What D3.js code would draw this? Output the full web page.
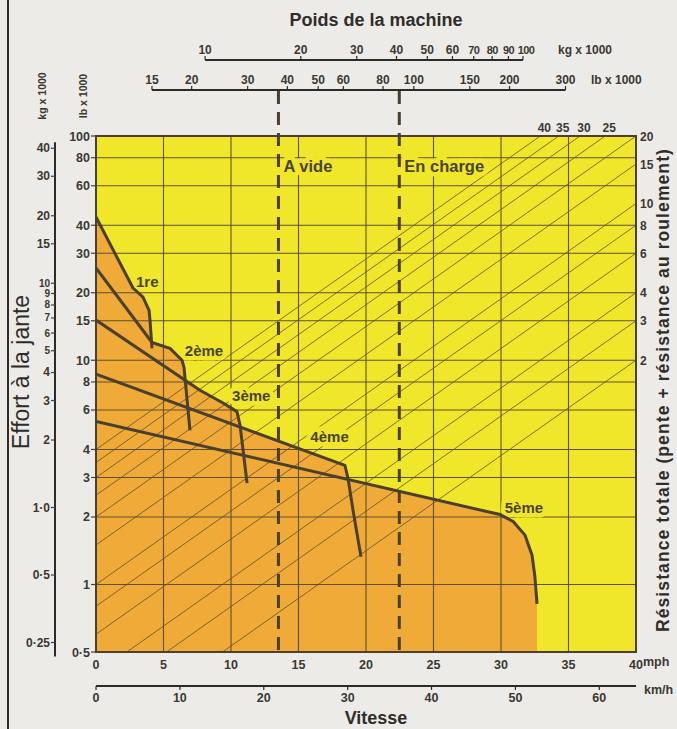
<!DOCTYPE html>
<html><head><meta charset="utf-8">
<script src="https://cdn.jsdelivr.net/npm/d3@7"></script>
<style>
html,body{margin:0;padding:0;background:#ecebe7;}
svg{display:block;font-family:"Liberation Sans",Arial,Helvetica,sans-serif;}
</style></head><body>
<svg id="c" width="677" height="729"></svg>
<script>
// ---------- data ----------
const speedTicksMph = [0,5,10,15,20,25,30,35,40];
const speedTicksKmh = [0,10,20,30,40,50,60];
const rimpullTicksLb = [100,80,60,40,30,20,15,10,8,6,4,3,2,1,0.5];
const rimpullTicksKg = [40,30,20,15,10,9,8,7,6,5,4,3,2,1,0.5,0.25];
const weightTicksKg = [10,20,30,40,50,60,70,80,90,100];
const weightTicksLb = [15,20,30,40,50,60,80,100,150,200,300];
const resistanceRightTicks = [20,15,10,8,6,4,3,2];
const resistanceTopTicks = [40,35,30,25];
const resistanceLines = [2,3,4,6,8,10,15,20,25,30,35,40];
const emptyWeightLb = 37.5;
const loadedWeightLb = 90;
const gearNames = ["1re","2ème","3ème","4ème","5ème"];
// [mph, rimpull lb x 1000]
const gear1 = [[0,43.5],[2.74,21.0],[3.48,19.1],[3.93,16.7],[4.0,15.1],[4.15,11.3]];
const gear2 = [[0,25.8],[4.15,12.0],[5.48,11.3],[6.37,10.0],[6.52,9.3],[6.96,4.87]];
const gear3 = [[0,15.1],[7.7,7.35],[9.41,6.45],[10.44,5.9],[10.67,5.13],[11.19,2.83]];
const gear4 = [[0,8.66],[18.44,3.40],[18.67,2.97],[19.04,2.14],[19.63,1.33]];
const gear5 = [[0,5.34],[29.93,2.05],[30.9,1.91],[31.78,1.66],[32.3,1.35],[32.5,1.10],[32.67,0.82]];
// label anchors [mph, lb x 1000]
const gearLabelAt = [[3.8,22.1],[8.0,10.9],[11.5,6.84],[17.3,4.48],[31.7,2.18]];
const weightLabels = ["A vide","En charge"];

// ---------- layout ----------
const svg = d3.select('#c');
const L=96, R=636, T=136, B=652;
const KG = 2.20462;
const x = d3.scaleLinear().domain([0,40]).range([L,R]);
const xk = d3.scaleLinear().domain([0,40*1.609344]).range([L,R]);
const y = d3.scaleLog().domain([0.5,100]).range([B,T]);
const w = d3.scaleLog().domain([10,500]).range([L,R]);
const YEL="#f1e72a", ORA="#efaa37", INK="#4b3f30", GRID="#5e5030", TXT="#3b3833";

svg.append('rect').attr('width',677).attr('height',729).attr('fill','#ecebe7');
svg.append('line').attr('x1',8).attr('x2',8).attr('y1',0).attr('y2',729).attr('stroke','#2d2b28').attr('stroke-width',2);

svg.append('defs').append('clipPath').attr('id','plot').append('rect')
  .attr('x',L).attr('y',T).attr('width',R-L).attr('height',B-T);

const plot = svg.append('g').attr('clip-path','url(#plot)');
plot.append('rect').attr('x',L).attr('y',T).attr('width',R-L).attr('height',B-T).attr('fill',YEL);

// envelope of gear curves
const gears=[gear1,gear2,gear3,gear4,gear5];
function valAt(g,m){
  if(m<g[0][0]-1e-9||m>g[g.length-1][0]+1e-9) return null;
  for(let i=0;i<g.length-1;i++){
    const a=g[i], b=g[i+1];
    if(m>=a[0]-1e-9 && m<=b[0]+1e-9){
      const t=(b[0]===a[0])?0:(m-a[0])/(b[0]-a[0]);
      return Math.exp(Math.log(a[1])+t*(Math.log(b[1])-Math.log(a[1])));
    }
  }
  return g[g.length-1][1];
}
const endM = d3.max(gears,g=>g[g.length-1][0]);
const env=[];
for(let m=0;m<=endM+1e-9;m+=0.01){
  let best=null;
  gears.forEach(g=>{const v=valAt(g,Math.min(m,endM)); if(v!=null&&(best==null||v>best)) best=v;});
  if(best!=null) env.push([x(m),y(best)]);
}
env.push([x(endM),y(gear5[gear5.length-1][1])]);
env.push([x(endM),B]); env.push([x(0),B]);
plot.append('path').attr('d',d3.line()(env)+'Z').attr('fill',ORA);

// grid
plot.selectAll('.hg').data(rimpullTicksLb.filter(d=>d<100&&d>0.5)).join('line')
  .attr('x1',L).attr('x2',R).attr('y1',d=>y(d)).attr('y2',d=>y(d))
  .attr('stroke',GRID).attr('stroke-width',1.1);
plot.selectAll('.vg').data(speedTicksMph.filter(d=>d>0&&d<40)).join('line')
  .attr('x1',d=>x(d)).attr('x2',d=>x(d)).attr('y1',T).attr('y2',B)
  .attr('stroke',GRID).attr('stroke-width',1.1);

// resistance lines: rimpull = weight * r/100
plot.selectAll('.rl').data(resistanceLines).join('line')
  .attr('x1',w(10)).attr('y1',r=>y(10*r/100))
  .attr('x2',w(500)).attr('y2',r=>y(500*r/100))
  .attr('stroke',GRID).attr('stroke-width',0.8);

// label halos
function plotLabel(txt,px,py,size,anchor){
  svg.append('text').attr('x',px).attr('y',py).attr('text-anchor',anchor).attr('dominant-baseline','middle')
    .attr('font-size',size).attr('font-weight','bold').attr('fill',YEL).attr('stroke',YEL)
    .attr('stroke-width',9).attr('stroke-linejoin','round').text(txt);
}
const labelSpecs=[];
gearNames.forEach((n,i)=>labelSpecs.push({t:n,x:x(gearLabelAt[i][0]),y:y(gearLabelAt[i][1]),s:15,a:'middle'}));
labelSpecs.push({t:weightLabels[0],x:w(emptyWeightLb)+5,y:y(72),s:16.5,a:'start'});
labelSpecs.push({t:weightLabels[1],x:w(loadedWeightLb)+5,y:y(72),s:16.5,a:'start'});
labelSpecs.forEach(l=>plotLabel(l.t,l.x,l.y,l.s,l.a));

// gear curves
const line=d3.line().x(d=>x(d[0])).y(d=>y(d[1]));
svg.append('g').attr('clip-path','url(#plot)').selectAll('path').data(gears).join('path')
  .attr('d',line).attr('fill','none').attr('stroke',INK).attr('stroke-width',3)
  .attr('stroke-linejoin','round').attr('stroke-linecap','butt');

// dashed weight lines
svg.selectAll('.dw').data([emptyWeightLb,loadedWeightLb]).join('line')
  .attr('x1',d=>w(d)).attr('x2',d=>w(d)).attr('y1',91).attr('y2',B)
  .attr('stroke',INK).attr('stroke-width',3).attr('stroke-dasharray','13,8');

labelSpecs.forEach(l=>{
  svg.append('text').attr('x',l.x).attr('y',l.y).attr('text-anchor',l.a).attr('dominant-baseline','middle')
    .attr('font-size',l.s).attr('font-weight','bold').attr('fill','#4a4432').text(l.t);
});

// plot border
svg.append('rect').attr('x',L).attr('y',T).attr('width',R-L).attr('height',B-T)
  .attr('fill','none').attr('stroke',INK).attr('stroke-width',2);

const fmt=d=>String(d).replace('.', '·');
const FS=12;
// left lb axis
svg.selectAll('.lt').data(rimpullTicksLb).join('line')
  .attr('x1',L-5).attr('x2',L).attr('y1',d=>y(d)).attr('y2',d=>y(d)).attr('stroke',INK).attr('stroke-width',1.2);
svg.selectAll('.ll').data(rimpullTicksLb).join('text')
  .attr('x',L-6).attr('y',d=>y(d)+4.5).attr('text-anchor','end').attr('font-size',12.5).attr('font-weight','bold')
  .attr('fill',TXT).text(fmt);
// left kg axis
const KX=55;
svg.append('line').attr('x1',KX).attr('x2',KX).attr('y1',y(40*KG)-6).attr('y2',y(0.25*KG)+14)
  .attr('stroke','#2d2b28').attr('stroke-width',2);
svg.selectAll('.kt').data(rimpullTicksKg).join('line')
  .attr('x1',KX-4).attr('x2',KX).attr('y1',d=>y(d*KG)).attr('y2',d=>y(d*KG)).attr('stroke',INK).attr('stroke-width',1.2);
svg.selectAll('.kl').data(rimpullTicksKg).join('text')
  .attr('x',KX-5).attr('y',d=>y(d*KG)+(d>=5&&d<=10?3.5:4)).attr('text-anchor','end').attr('font-size',d=>(d>=5&&d<=10)?10:12)
  .attr('font-weight','bold').attr('fill',TXT).text(d=>d===1?'1·0':fmt(d));
[['kg x 1000',46],['lb x 1000',87]].forEach(([t,px])=>{
  svg.append('text').attr('transform',`translate(${px},96) rotate(-90)`).attr('text-anchor','middle')
    .attr('font-size',10.5).attr('font-weight','bold').attr('fill',TXT).text(t);
});
// right resistance axis
svg.selectAll('.rr').data(resistanceRightTicks).join('text')
  .attr('x',R+4).attr('y',r=>y(5*r)+4.5).attr('font-size',FS).attr('font-weight','bold').attr('fill',TXT).text(d=>d);
svg.selectAll('.rt').data(resistanceTopTicks).join('text')
  .attr('x',r=>w(100/(r/100))+4).attr('y',T-4).attr('text-anchor','middle').attr('font-size',FS).attr('font-weight','bold')
  .attr('fill',TXT).text(d=>d);

// bottom mph axis
svg.selectAll('.ml').data(speedTicksMph).join('text')
  .attr('x',d=>x(d)).attr('y',B+17).attr('text-anchor','middle').attr('font-size',12.5).attr('font-weight','bold')
  .attr('fill',TXT).text(d=>d);
svg.append('text').attr('x',R+7).attr('y',B+14).attr('font-size',12.5).attr('font-weight','bold').attr('fill',TXT).text('mph');
// km/h axis
const KY=686;
svg.append('line').attr('x1',L).attr('x2',R).attr('y1',KY).attr('y2',KY).attr('stroke','#2d2b28').attr('stroke-width',2);
svg.selectAll('.kmt').data(speedTicksKmh).join('line')
  .attr('x1',d=>xk(d)).attr('x2',d=>xk(d)).attr('y1',KY).attr('y2',KY+4).attr('stroke','#2d2b28').attr('stroke-width',1.2);
svg.selectAll('.kml').data(speedTicksKmh).join('text')
  .attr('x',d=>xk(d)).attr('y',KY+16).attr('text-anchor','middle').attr('font-size',12.5).attr('font-weight','bold')
  .attr('fill',TXT).text(d=>d);
svg.append('text').attr('x',R+8).attr('y',KY+8).attr('font-size',12.5).attr('font-weight','bold').attr('fill',TXT).text('km/h');

// top weight axes
const KGY=60, LBY=90;
svg.append('line').attr('x1',w(10*KG)).attr('x2',w(100*KG)).attr('y1',KGY).attr('y2',KGY).attr('stroke','#2d2b28').attr('stroke-width',2);
svg.selectAll('.tkt').data(weightTicksKg).join('line')
  .attr('x1',d=>w(d*KG)).attr('x2',d=>w(d*KG)).attr('y1',KGY-4).attr('y2',KGY).attr('stroke','#2d2b28').attr('stroke-width',1.2);
svg.selectAll('.tkl').data(weightTicksKg).join('text')
  .attr('x',d=>w(d*KG)+(d===100?3:0)).attr('y',KGY-6).attr('text-anchor','middle').attr('font-size',d=>d>=70?11:12)
  .attr('letter-spacing',d=>d>=70?-0.6:0).attr('font-weight','bold').attr('fill',TXT).text(d=>d);
svg.append('text').attr('x',558).attr('y',KGY-6).attr('font-size',12).attr('font-weight','bold').attr('fill',TXT).text('kg x 1000');
svg.append('line').attr('x1',w(15)).attr('x2',w(300)).attr('y1',LBY).attr('y2',LBY).attr('stroke','#2d2b28').attr('stroke-width',2);
svg.selectAll('.tlt').data(weightTicksLb).join('line')
  .attr('x1',d=>w(d)).attr('x2',d=>w(d)).attr('y1',LBY-4).attr('y2',LBY).attr('stroke','#2d2b28').attr('stroke-width',1.2);
svg.selectAll('.tll').data(weightTicksLb).join('text')
  .attr('x',d=>w(d)).attr('y',LBY-6).attr('text-anchor','middle').attr('font-size',12).attr('font-weight','bold')
  .attr('fill',TXT).text(d=>d);
svg.append('text').attr('x',591).attr('y',LBY-6).attr('font-size',12).attr('font-weight','bold').attr('fill',TXT).text('lb x 1000');

// titles
svg.append('text').attr('x',376).attr('y',26).attr('text-anchor','middle').attr('font-size',18).attr('font-weight','bold')
  .attr('fill','#2f2d2a').text('Poids de la machine');
svg.append('text').attr('x',376).attr('y',724).attr('text-anchor','middle').attr('font-size',18).attr('font-weight','bold')
  .attr('fill','#2f2d2a').text('Vitesse');
svg.append('text').attr('transform','translate(29,372) rotate(-90)').attr('text-anchor','middle').attr('font-size',23)
  .attr('fill','#2f2d2a').text('Effort à la jante');
const rt = svg.append('text').attr('transform','translate(669,390) rotate(-90)').attr('text-anchor','middle').attr('font-size',17.5)
  .attr('font-weight','bold').attr('fill','#2f2d2a').text('Résistance totale (pente + résistance au roulement)');
const len = rt.node().getComputedTextLength();
const nch = rt.text().length;
rt.attr('letter-spacing', Math.max(-1, Math.min(2, (484-len)/nch)));
</script>
</body></html>
